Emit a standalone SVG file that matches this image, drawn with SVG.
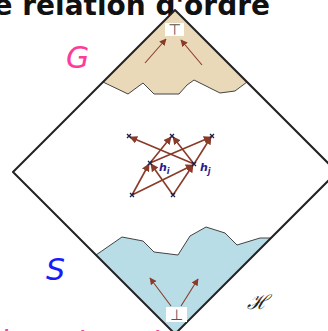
<svg xmlns="http://www.w3.org/2000/svg" width="328" height="331" viewBox="0 0 328 331">
<style>
.edge{stroke:#8a3a28;stroke-width:1.6;fill:none;marker-end:url(#ah)}
.big{stroke:#8a3a28;stroke-width:1.1;fill:none;marker-end:url(#ah2)}
.node{stroke:#1a1f4a;stroke-width:1.3}
.lab{font-family:"DejaVu Sans",sans-serif;font-style:italic;fill:#2a1a8a}
.sym{font-family:"DejaVu Sans",sans-serif;fill:#555;font-size:15px;text-anchor:middle}
.jag{stroke:#444;stroke-width:1;fill:none}
</style>
<defs>
<marker id="ah" viewBox="0 0 10 10" refX="9" refY="5" markerWidth="8" markerHeight="8" orient="auto" markerUnits="userSpaceOnUse"><path d="M0,0 L10,5 L0,10 Z" fill="#8a3a28"/></marker>
<marker id="ah2" viewBox="0 0 10 10" refX="9" refY="5" markerWidth="7" markerHeight="7" orient="auto" markerUnits="userSpaceOnUse"><path d="M0,0 L10,5 L0,10 Z" fill="#8a3a28"/></marker>
</defs>
<rect width="328" height="331" fill="#fff"/>
<text x="270" y="15" font-family="DejaVu Sans, sans-serif" font-weight="bold" font-size="28" text-anchor="end" fill="#111">e relation d'ordre</text>
<g id="G-region">
<polygon points="175,10 247,82 235,91 220,93 194,80 187,85 179,94 154,94 143,83 128,94 103,82" fill="#e9d9b9"/>
<polyline class="jag" points="247,82 235,91 220,93 194,80 187,85 179,94 154,94 143,83 128,94 103,82"/>
</g>
<g id="S-region">
<polygon points="96,255 122,237 143,241 154,252 178,255 190,236 206,227 225,233 237,245 260,238 271,238 175,334" fill="#b8dde6"/>
<polyline class="jag" points="96,255 122,237 143,241 154,252 178,255 190,236 206,227 225,233 237,245 260,238 271,238"/>
</g>
<g id="diamond">
<path d="M175,10 L337,172 L175,334 L13,172 Z" fill="none" stroke="#222" stroke-width="2" stroke-linejoin="round"/>
</g>
<g id="top">
<rect x="165" y="23" width="19" height="13" fill="#fff"/>
<text class="sym" x="174.5" y="35">⊤</text>
</g>
<g id="bottom">
<rect x="166" y="307" width="21" height="15" fill="#fff"/>
<text class="sym" x="176.5" y="320">⊥</text>
</g>
<g id="connectors">
<line class="big" x1="145" y1="63" x2="166" y2="39"/>
<line class="big" x1="202" y1="65" x2="181" y2="40"/>
<line class="big" x1="171" y1="306" x2="150" y2="278"/>
<line class="big" x1="181" y1="306" x2="198" y2="279"/>
<line class="edge" x1="194" y1="164" x2="130" y2="137"/>
<line class="edge" x1="150" y1="163" x2="171" y2="137"/>
<line class="edge" x1="150" y1="163" x2="211" y2="137"/>
<line class="edge" x1="194" y1="164" x2="173" y2="137"/>
<line class="edge" x1="194" y1="164" x2="211" y2="137"/>
<line class="edge" x1="132" y1="195" x2="149" y2="164"/>
<line class="edge" x1="132" y1="195" x2="193" y2="165"/>
<line class="edge" x1="173" y1="195" x2="151" y2="164"/>
<line class="edge" x1="173" y1="195" x2="193" y2="165"/>
</g>
<g id="nodes">
<path class="node" d="M127,134 l4,4 M131,134 l-4,4"/>
<path class="node" d="M170,134 l4,4 M174,134 l-4,4"/>
<path class="node" d="M210,134 l4,4 M214,134 l-4,4"/>
<path class="node" d="M148,161 l4,4 M152,161 l-4,4"/>
<path class="node" d="M192,162 l4,4 M196,162 l-4,4"/>
<path class="node" d="M130,193 l4,4 M134,193 l-4,4"/>
<path class="node" d="M171,193 l4,4 M175,193 l-4,4"/>
<text class="lab" x="159" y="171" font-size="11" font-weight="bold">h<tspan font-size="8" dy="3">i</tspan></text>
<text class="lab" x="200" y="171" font-size="11" font-weight="bold">h<tspan font-size="8" dy="3">j</tspan></text>
</g>
<text x="66" y="68" font-family="DejaVu Sans, sans-serif" font-style="italic" font-size="30" fill="#ff3a9a">G</text>
<text x="46" y="280" font-family="DejaVu Sans, sans-serif" font-style="italic" font-size="30" fill="#1a1aff">S</text>
<text x="257" y="309" font-family="DejaVu Serif, serif" font-style="italic" font-size="20" fill="#222" text-anchor="middle">ℋ</text>
<text font-family="DejaVu Sans, sans-serif" font-style="italic" font-size="30" fill="#ff3a9a"><tspan x="0" y="352">l</tspan><tspan x="76" y="353">l</tspan><tspan x="151" y="353">l</tspan></text>
</svg>
